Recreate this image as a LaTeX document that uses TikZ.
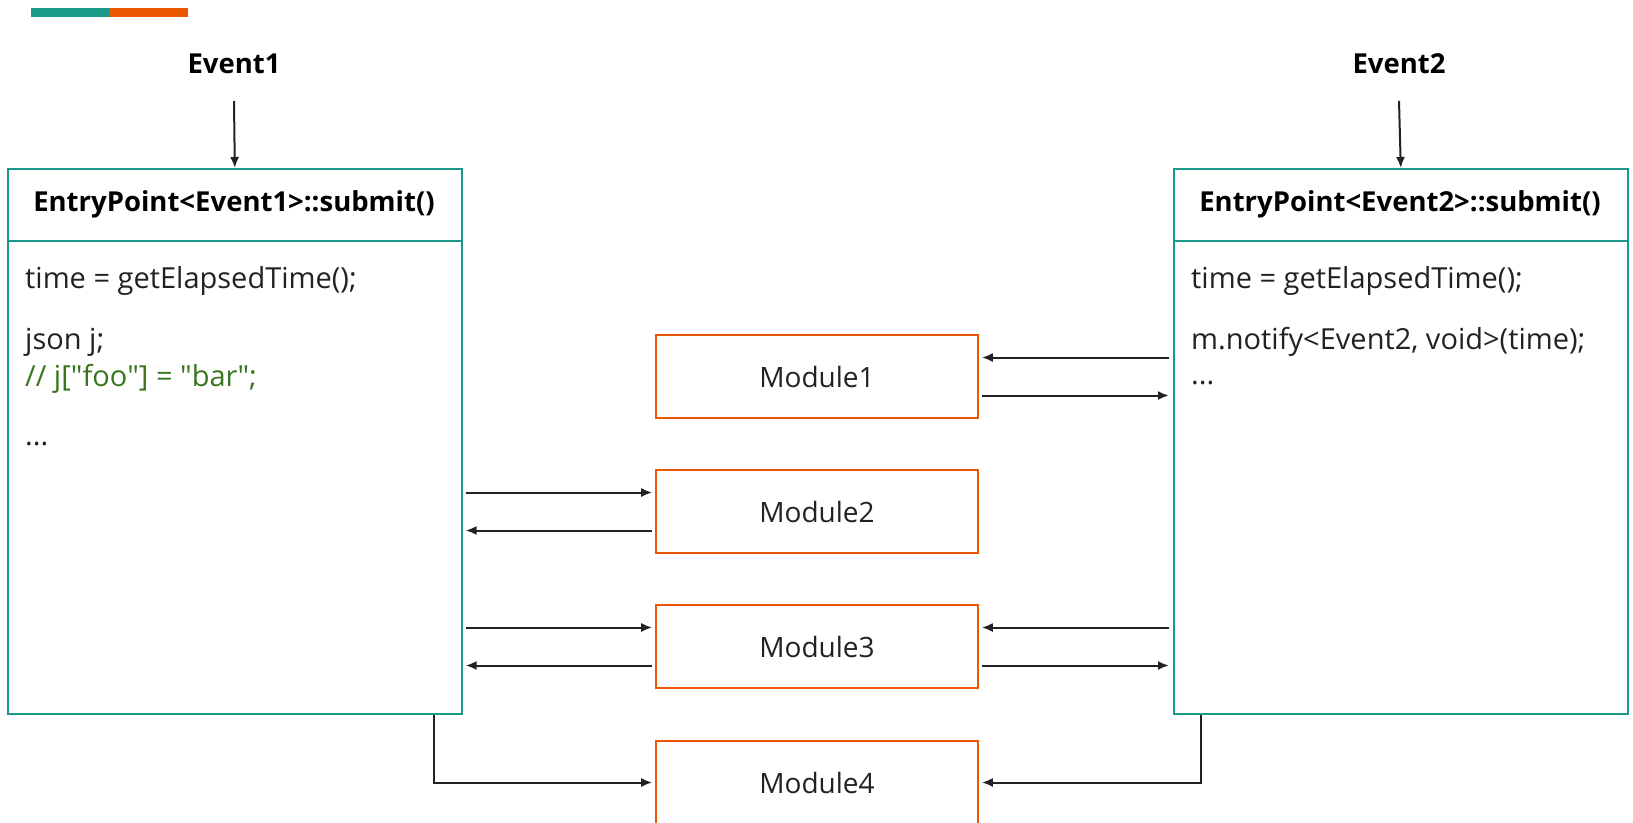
\documentclass[tikz,border=0pt]{standalone}
\usepackage{fontspec}
\setmainfont{Open Sans}
\usetikzlibrary{arrows.meta}
\definecolor{teal1}{RGB}{26,153,136}
\definecolor{orange1}{RGB}{235,86,0}
\definecolor{cgreen}{RGB}{56,118,29}
\definecolor{ink}{RGB}{34,34,34}
\begin{document}
\begin{tikzpicture}[x=1pt,y=-1pt,
  entry/.style={draw=teal1,line width=1.6pt,minimum width=454pt,minimum height=545pt,inner sep=0pt,anchor=north west},
  module/.style={draw=orange1,line width=1.6pt,minimum width=322pt,minimum height=83pt,inner sep=0pt,text=ink,font=\fontsize{28}{32}\selectfont},
  code/.style={anchor=base west,inner sep=0pt,text=ink,font=\fontsize{29}{33}\selectfont},
  title/.style={inner sep=0pt,text=black,font=\bfseries\fontsize{27.5}{32}\selectfont},
  link/.style={draw=ink,line width=2pt,-{Latex[length=11pt,width=9pt]}},
  sep/.style={draw=teal1,line width=1.6pt}
]
\useasboundingbox (0,0) rectangle (1633,822);
\clip (0,0) rectangle (1633,822);
% top bar
\fill[teal1] (31,8) rectangle (109,17);
\fill[orange1] (109,8) rectangle (188,17);

% entry boxes
\node[entry] (L) at (7,168) {};
\node[entry] (R) at (1173,168) {};
\coordinate (Ls) at ([yshift=-73pt]L.north west);
\coordinate (Rs) at ([yshift=-73pt]R.north west);
\draw[sep] (Ls) -- (Ls -| L.east);
\draw[sep] (Rs) -- (Rs -| R.east);

\node[title] (LT) at (234,204) {EntryPoint<Event1>::submit()};
\node[title] (RT) at (1400,204) {EntryPoint<Event2>::submit()};

% events
\node[title] (E1) at (234,64) {Event1};
\node[title] (E2) at (1399,64) {Event2};
\draw[link] ([yshift=-37pt]E1.center) -- (L.north);
\draw[link] ([yshift=-37pt]E2.center) -- (R.north);

% code text
\node[code] (l1) at (25,288) {time = getElapsedTime();};
\node[code] (l2) at (25,349) {json j;};
\node[code,text=cgreen] (l3) at (25,386) {// j[\textquotedbl foo\textquotedbl] = \textquotedbl bar\textquotedbl;};
\node[code] (l4) at (25,445) {...};
\node[code] (r1) at (1191,288) {time = getElapsedTime();};
\node[code] (r2) at (1191,349) {m.notify<Event2, void>(time);};
\node[code] (r3) at (1191,384) {...};

% modules
\node[module] (M1) at (817,376.5) {Module1};
\node[module] (M2) at (817,511.5) {Module2};
\node[module] (M3) at (817,646.5) {Module3};
\node[module] (M4) at (817,782.5) {Module4};

% module 1 <-> right
\coordinate (m1a) at ([yshift=19pt]M1.east);
\coordinate (m1b) at ([yshift=-19pt]M1.east);
\draw[link,shorten <=4pt,shorten >=3pt] (m1a -| R.west) -- (m1a);
\draw[link,shorten <=3pt,shorten >=4pt] (m1b) -- (m1b -| R.west);

% module 2 <-> left
\coordinate (m2a) at ([yshift=19pt]M2.west);
\coordinate (m2b) at ([yshift=-19pt]M2.west);
\draw[link,shorten <=3pt,shorten >=3pt] (m2a -| L.east) -- (m2a);
\draw[link,shorten <=3pt,shorten >=3pt] (m2b) -- (m2b -| L.east);

% module 3 <-> left and right
\coordinate (m3a) at ([yshift=19pt]M3.west);
\coordinate (m3b) at ([yshift=-19pt]M3.west);
\coordinate (m3c) at ([yshift=19pt]M3.east);
\coordinate (m3d) at ([yshift=-19pt]M3.east);
\draw[link,shorten <=3pt,shorten >=3pt] (m3a -| L.east) -- (m3a);
\draw[link,shorten <=3pt,shorten >=3pt] (m3b) -- (m3b -| L.east);
\draw[link,shorten <=4pt,shorten >=3pt] (m3c -| R.west) -- (m3c);
\draw[link,shorten <=3pt,shorten >=4pt] (m3d) -- (m3d -| R.west);

% module 4
\draw[link,shorten >=3pt] ([xshift=-29pt]L.south east) |- (M4.west);
\draw[link,shorten >=3pt] ([xshift=28pt]R.south west) |- (M4.east);
\end{tikzpicture}
\end{document}
